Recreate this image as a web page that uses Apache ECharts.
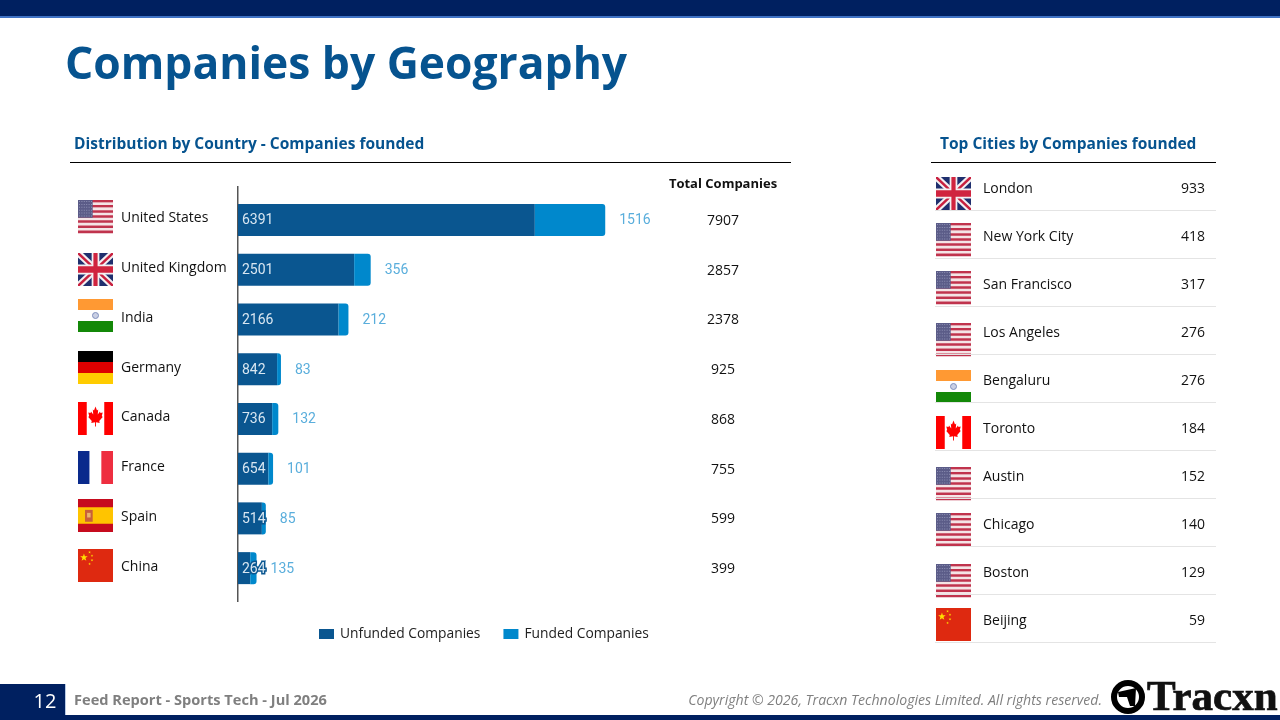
<!DOCTYPE html>
<html><head><meta charset="utf-8">
<style>html,body{margin:0;padding:0;background:#fff}#c{width:1280px;height:720px}</style>
<script src="https://cdn.jsdelivr.net/npm/echarts@6/dist/echarts.min.js"></script>
</head><body><div id="c"></div>
<script>
const countries = ['United States','United Kingdom','India','Germany','Canada','France','Spain','China'];
const unfunded = [6391,2501,2166,842,736,654,514,264];
const funded = [1516,356,212,83,132,101,85,135];
const totals = [7907,2857,2378,925,868,755,599,399];
const cities = ['London','New York City','San Francisco','Los Angeles','Bengaluru','Toronto','Austin','Chicago','Boston','Beijing'];
const cityCounts = [933,418,317,276,276,184,152,140,129,59];
const cityFlags = ['uk','us','us','us','in','ca','us','us','us','cn'];
const countryFlags = ['us','uk','in','de','ca','fr','es','cn'];

const FONT = '"Open Sans"';
const NAVY = '#002060', BLUE = '#06538f', LIGHT = '#0088cc';
const countryFlagY = [200,253,299,351,402,451,499,549];
const cityFlagY = [177,223,271,323,370,416,467,513,564,608];

function rect(x,y,w,h,fill,opacity){return {type:'rect',silent:true,shape:{x,y,width:w,height:h},style:{fill,opacity:opacity==null?1:opacity}};}
function poly(points,fill){return {type:'polygon',silent:true,shape:{points},style:{fill}};}
function star(cx,cy,r,fill){const p=[];for(let i=0;i<10;i++){const a=-Math.PI/2+i*Math.PI/5,q=i%2?r*0.4:r;p.push([cx+q*Math.cos(a),cy+q*Math.sin(a)]);}return poly(p,fill);}
function diag(x0,y0,x1,y1,t,fill){
  const w=x1-x0,h=y1-y0;
  return poly([[x0,y0],[x0+t,y0],[x1,y1-t*h/w],[x1,y1],[x1-t,y1],[x0,y0+t*h/w]],fill);
}
function flag(kind,x,y,w,h){
  const e=[];
  if(kind==='us'){
    const n=13,s=h/n;
    for(let i=0;i<n;i++)e.push(rect(x,y+i*s,w,s+0.2,i%2?'#f4e4e6':'#c0334d'));
    e.push(rect(x,y,w*0.42,s*7,'#5b5c88'));
    for(let r=0;r<6;r++)for(let c=0;c<6;c++)e.push(rect(x+1+c*2.4,y+1+r*2.9,1,1,'#8e90b4'));
  }else if(kind==='uk'){
    e.push(rect(x,y,w,h,'#1f2f6e'));
    const t=w*0.14;
    e.push(diag(x,y,x+w,y+h,t,'#f4f0f2'));
    e.push(poly([[x+w,y],[x+w-t,y],[x,y+h-t*h/w],[x,y+h],[x+t,y+h],[x+w,y+t*h/w]],'#f4f0f2'));
    const r=w*0.05;
    e.push(diag(x,y,x+w,y+h,r,'#c8203f'));
    e.push(poly([[x+w,y],[x+w-r,y],[x,y+h-r*h/w],[x,y+h],[x+r,y+h],[x+w,y+r*h/w]],'#c8203f'));
    e.push(rect(x+w*0.39,y,w*0.22,h,'#f4f0f2'));
    e.push(rect(x,y+h*0.35,w,h*0.3,'#f4f0f2'));
    e.push(rect(x+w*0.44,y,w*0.12,h,'#d0243f'));
    e.push(rect(x,y+h*0.4,w,h*0.2,'#d0243f'));
  }else if(kind==='in'){
    e.push(rect(x,y,w,h/3,'#ff9933'),rect(x,y+h/3,w,h/3,'#ffffff'),rect(x,y+2*h/3,w,h/3,'#138808'));
    e.push({type:'circle',silent:true,shape:{cx:x+w/2,cy:y+h/2,r:3},style:{fill:'#c9cfe4',stroke:'#7f8fbc',lineWidth:1}});
  }else if(kind==='de'){
    e.push(rect(x,y,w,h/3,'#000000'),rect(x,y+h/3,w,h/3,'#dd0000'),rect(x,y+2*h/3,w,h/3,'#ffcc00'));
  }else if(kind==='ca'){
    e.push(rect(x,y,w,h,'#ffffff'),rect(x,y,w/4,h,'#ff0000'),rect(x+w*3/4,y,w/4,h,'#ff0000'));
    const cx=x+w/2,u=h/33;
    const leaf=[[0,-11],[2,-7],[3.6,-8],[3,-3],[6,-6],[6.6,-4.4],[9.6,-5],[8.4,-1.4],[9.6,-0.6],[5,3.6],[5.6,5.6],[0.6,4.8],[0.6,9],[-0.6,9],[-0.6,4.8],[-5.6,5.6],[-5,3.6],[-9.6,-0.6],[-8.4,-1.4],[-9.6,-5],[-6.6,-4.4],[-6,-6],[-3,-3],[-3.6,-8],[-2,-7]];
    e.push(poly(leaf.map(p=>[cx+p[0]*u*0.75,y+h/2-1+p[1]*u]),'#ff0000'));
  }else if(kind==='fr'){
    e.push(rect(x,y,w/3,h,'#0a2a8c'),rect(x+w/3,y,w/3,h,'#ffffff'),rect(x+2*w/3,y,w/3,h,'#ee2e40'));
  }else if(kind==='es'){
    e.push(rect(x,y,w,h,'#c60b1e'),rect(x,y+h/4,w,h/2,'#ffc400'));
    e.push(rect(x+w*0.2,y+h*0.33,w*0.22,h*0.36,'#c8603a'),rect(x+w*0.26,y+h*0.42,w*0.1,h*0.14,'#e9b46a'));
  }else if(kind==='cn'){
    e.push(rect(x,y,w,h,'#de2910'));
    e.push(star(x+w*0.17,y+h*0.26,4,'#ffde00'));
    [[0.33,0.1],[0.4,0.2],[0.4,0.34],[0.33,0.45]].forEach(p=>e.push(star(x+w*p[0],y+h*p[1],1.4,'#ffde00')));
  }
  return e;
}
function text(x,y,t,size,fill,opt){
  opt=opt||{};
  return {type:'text',silent:true,x,y,style:{text:t,fill,fontFamily:opt.family||FONT,fontSize:size,fontWeight:opt.weight||'normal',fontStyle:opt.style||'normal',align:opt.align||'left',verticalAlign:'middle',stroke:opt.stroke||null,lineWidth:opt.stroke?0.7:0}};
}

const g=[];
g.push(rect(0,0,1280,16,NAVY),rect(0,16,1280,2,'#3f72c4'));
g.push(rect(0,715,1280,5,NAVY),rect(0,684,65,36,NAVY),rect(65,684,1,31,'#b9cbe6'));
g.push(text(65,66,'Companies by Geography',44.4,BLUE,{weight:'bold'}));
g.push(text(74,145,'Distribution by Country - Companies founded',15.5,BLUE,{weight:'bold'}));
g.push(text(940,145,'Top Cities by Companies founded',15.5,BLUE,{weight:'bold'}));
g.push(rect(70,162,721,1,'#000'),rect(931,162,285,1,'#000'));
g.push(text(723,184,'Total Companies',13,'#111',{weight:'bold',align:'center'}));
g.push(rect(237,186,1.5,416,'#555'));
countryFlags.forEach((f,i)=>{g.push(...flag(f,78,countryFlagY[i],35,33));});
cities.forEach((c,i)=>{
  const cy=189+48*i;
  g.push(...flag(cityFlags[i],936,cityFlagY[i],35,33));
  g.push(text(983,cy,c,14,'#111'));
  g.push(text(1205,cy,String(cityCounts[i]),14,'#111',{align:'right'}));
  g.push(rect(935,210+48*i,281,1,'#e4e4e4'));
});
g.push(text(45,702,'12',20,'#fff',{align:'center'}));
g.push(text(74,701,'Feed Report - Sports Tech - Jul 2026',14.6,'#7f7f7f',{weight:'bold'}));
g.push(text(1102,701,'Copyright © 2026, Tracxn Technologies Limited. All rights reserved.',14.1,'#7f7f7f',{style:'italic',align:'right'}));
g.push({type:'circle',silent:true,shape:{cx:1128,cy:697,r:14},style:{fill:'#fff',stroke:'#000',lineWidth:6}});
g.push(poly([[1118,692],[1136,688],[1135,706],[1130,706],[1127,697],[1119,697]],'#000'));
g.push(text(1147,699,'Tracxn',43,'#111',{family:'"Liberation Serif"',weight:'bold',stroke:'#111'}));

const chart=echarts.init(document.getElementById('c'),null,{renderer:'canvas'});
chart.setOption({
  animation:false,
  textStyle:{fontFamily:FONT},
  grid:{left:238,top:195,width:418,height:398,containLabel:false},
  legend:{left:314,top:622,itemWidth:15,itemHeight:10,itemGap:23,icon:'rect',
    textStyle:{fontFamily:FONT,fontSize:13.8,color:'#222',padding:[0,0,0,1]},
    data:['Unfunded Companies','Funded Companies']},
  xAxis:{type:'value',min:0,max:9000,show:false},
  yAxis:[
    {type:'category',inverse:true,data:countries,axisLine:{show:false},axisTick:{show:false},
     axisLabel:{margin:117,align:'left',verticalAlign:'bottom',lineHeight:3,fontFamily:FONT,fontSize:14,color:'#111'}},
    {type:'category',inverse:true,position:'right',data:totals,axisLine:{show:false},axisTick:{show:false},
     axisLabel:{margin:67,align:'center',verticalAlign:'top',lineHeight:2,fontFamily:FONT,fontSize:14,color:'#111'}}
  ],
  series:[
    {name:'Unfunded Companies',type:'bar',stack:'c',data:unfunded,barWidth:32,
     itemStyle:{color:'#0a5690'},
     label:{show:true,position:'insideLeft',distance:4,offset:[0,1],fontFamily:'Roboto',fontSize:14,color:'#d8e6f1',textBorderColor:'#0a5690',textBorderWidth:3}},
    {name:'Funded Companies',type:'bar',stack:'c',data:funded,barWidth:32,
     itemStyle:{color:LIGHT,borderRadius:[0,3,3,0]},
     label:{show:true,position:'right',distance:14,offset:[0,1],fontFamily:'Roboto',fontSize:14,color:'#5aaedc'}}
  ],
  graphic:{elements:g}
});
</script></body></html>
